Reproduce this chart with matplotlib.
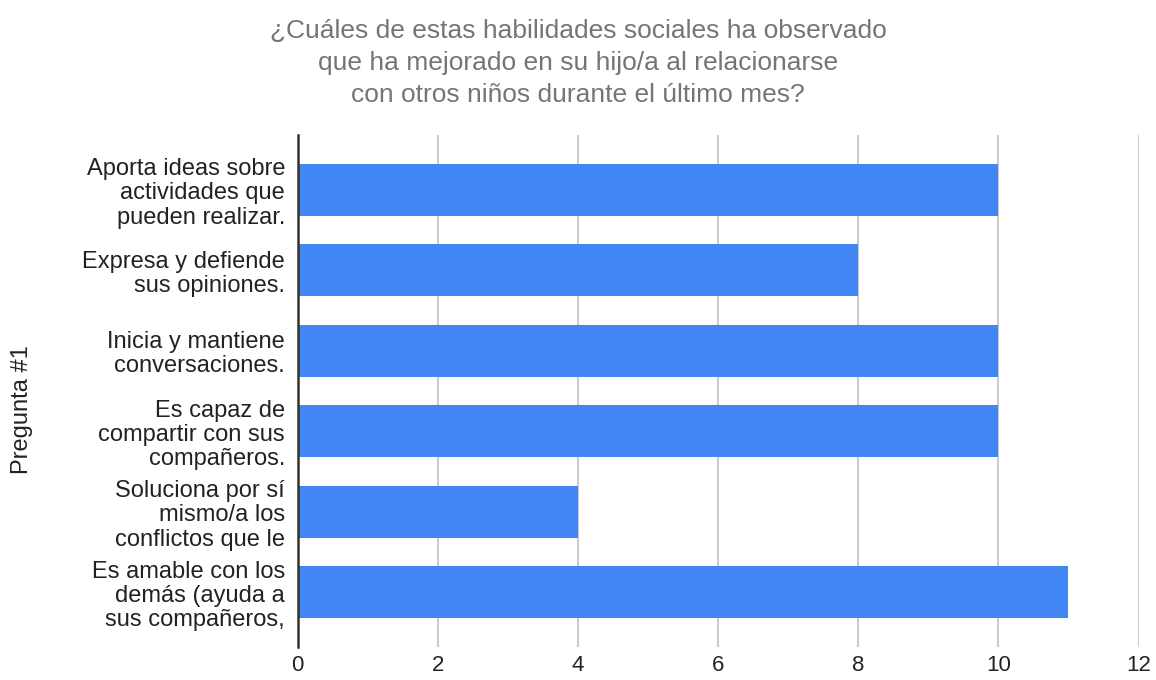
import matplotlib
matplotlib.use("Agg")
import matplotlib.pyplot as plt
from matplotlib import font_manager

categories = [
    "Aporta ideas sobre\nactividades que\npueden realizar.",
    "Expresa y defiende\nsus opiniones.",
    "Inicia y mantiene\nconversaciones.",
    "Es capaz de\ncompartir con sus\ncompañeros.",
    "Soluciona por sí\nmismo/a los\nconflictos que le",
    "Es amable con los\ndemás (ayuda a\nsus compañeros,",
]
values = [10, 8, 10, 10, 4, 11]
xticks = [0, 2, 4, 6, 8, 10, 12]
title = ("¿Cuáles de estas habilidades sociales ha observado\n"
         "que ha mejorado en su hijo/a al relacionarse\n"
         "con otros niños durante el último mes?")
ylabel = "Pregunta #1"

names = {f.name for f in font_manager.fontManager.ttflist}
base = "Liberation Sans" if "Liberation Sans" in names else "DejaVu Sans"
narrow = "Liberation Sans Narrow" if "Liberation Sans Narrow" in names else base
plt.rcParams['font.family'] = [base, 'DejaVu Sans']

fig = plt.figure(figsize=(11.56, 6.8), dpi=100)
ax = fig.add_axes([0.2574, 0.0485, 0.7275, 0.753])

ypos = list(range(len(categories)))
ax.barh(ypos, values, height=0.645, color="#4285F4", zorder=3)
ax.set_ylim(len(categories) - 1 + 0.68, -0.68)
ax.set_xlim(0, 12)
ax.set_xticks(xticks)
ax.set_xticklabels([str(t) for t in xticks], fontsize=16, color="#222222")
ax.set_yticks(ypos)
ax.set_yticklabels(categories, fontsize=17, color="#222222", linespacing=1.13)
ax.tick_params(axis='x', length=0, pad=6)
ax.tick_params(axis='y', length=0, pad=9)
ax.xaxis.grid(True, color="#cccccc", linewidth=1.5, zorder=0)
for s in ["top", "right", "bottom"]:
    ax.spines[s].set_visible(False)
ax.spines["left"].set_color("#333333")
ax.spines["left"].set_linewidth(1.8)
ax.spines["left"].set_zorder(4)

fig.text(0.5, 0.972, title, ha="center", va="top", fontsize=19,
         color="#757575", family=[narrow, 'DejaVu Sans'], linespacing=1.42)
fig.text(0.019, 0.398, ylabel, rotation=90, ha="center", va="center",
         fontsize=17, color="#222222")

fig.savefig("out.png", dpi=100)
